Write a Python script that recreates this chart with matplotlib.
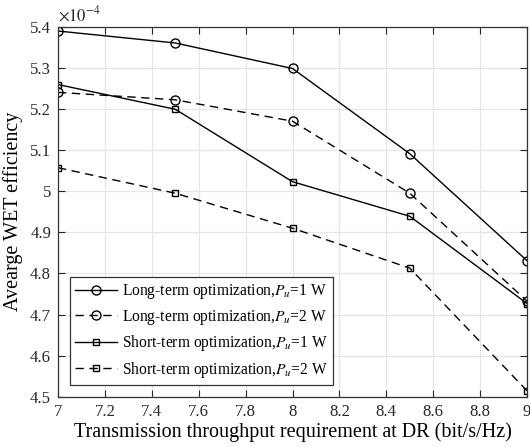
import numpy as np
import matplotlib.pyplot as plt
from matplotlib.ticker import FuncFormatter

plt.rcParams['font.family'] = ['Liberation Serif', 'DejaVu Serif']
plt.rcParams['mathtext.fontset'] = 'stix'

# data (values in units of 1e-4)
x = [7, 7.5, 8, 8.5, 9]
long_p1 = [5.389, 5.360, 5.298, 5.091, 4.831]
long_p2 = [5.240, 5.222, 5.170, 4.995, 4.733]
short_p1 = [5.259, 5.199, 5.023, 4.939, 4.727]
short_p2 = [5.057, 4.995, 4.910, 4.813, 4.515]

labels = [r'Long-term optimization,$P_u$=1 W',
          r'Long-term optimization,$P_u$=2 W',
          r'Short-term optimization,$P_u$=1 W',
          r'Short-term optimization,$P_u$=2 W']

fig = plt.figure(figsize=(5.3, 4.47), dpi=100)
ax = fig.add_axes([0.1094, 0.1119, 0.885, 0.8288])

dash = (6, 4)
ax.plot(x, long_p1, 'k-', marker='o', mfc='none', ms=6.5, lw=1.0, label=labels[0])
ax.plot(x, long_p2, 'k--', dashes=dash, marker='o', mfc='none', ms=6.5, lw=1.0, label=labels[1])
ax.plot(x, short_p1, 'k-', marker='s', mfc='none', ms=5, lw=1.0, label=labels[2])
ax.plot(x, short_p2, 'k--', dashes=dash, marker='s', mfc='none', ms=5, lw=1.0, label=labels[3])

ax.set_xlim(7, 9)
ax.set_ylim(4.5, 5.4)
ax.set_xticks(np.arange(7, 9.01, 0.2))
ax.set_yticks(np.arange(4.5, 5.41, 0.1))
ax.xaxis.set_major_formatter(FuncFormatter(lambda v, p: '%g' % round(v, 2)))
ax.yaxis.set_major_formatter(FuncFormatter(lambda v, p: '%g' % round(v, 2)))

ax.grid(True, color='#e6e6e6', lw=0.9)
ax.set_axisbelow(True)
for s in ax.spines.values():
    s.set_color('#333333')
    s.set_linewidth(0.9)
ax.tick_params(direction='in', top=True, right=True, labelsize=12,
               colors='#262626', length=5, pad=5)

ax.set_xlabel('Transmission throughput requirement at DR (bit/s/Hz)', fontsize=14.5, labelpad=2)
ax.set_ylabel('Avearge WET efficiency', fontsize=14.5, labelpad=5)
ax.text(0.0, 1.005, r'$\times10^{-4}$', transform=ax.transAxes, fontsize=12,
        ha='left', va='bottom', color='#262626')

leg = ax.legend(loc='lower left', fontsize=11.2, handlelength=2.7, fancybox=False,
                framealpha=1, edgecolor='#333333', borderaxespad=0.75,
                labelspacing=0.42, handletextpad=0.3, borderpad=0.35)
leg.get_frame().set_linewidth(0.9)

plt.savefig('out.png', dpi=100)
